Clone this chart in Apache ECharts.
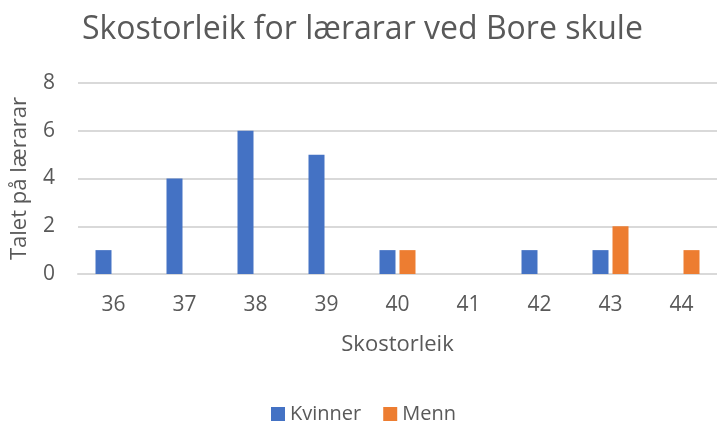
<!DOCTYPE html>
<html>
<head>
<meta charset="utf-8">
<script src="https://cdn.jsdelivr.net/npm/echarts@6/dist/echarts.min.js"></script>
<style>
  html, body { margin: 0; padding: 0; background: #fff; }
  #chart { width: 717px; height: 423px; }
</style>
</head>
<body>
<div id="chart"></div>
<script>
// skostorleik og talet på lærarar
const sizes = ["36", "37", "38", "39", "40", "41", "42", "43", "44"];
const kvinner = [1, 4, 6, 5, 1, 0, 1, 1, 0];
const menn = [0, 0, 0, 0, 1, 0, 0, 2, 1];
const yTicks = [0, 2, 4, 6, 8];

const textColor = "#595959";
const font = "Open Sans";

let chart = echarts.init(document.getElementById("chart"));
let option = {
  animation: false,
  textStyle: { fontFamily: font },
  title: {
    text: "Skostorleik for lærarar ved Bore skule",
    left: 77,
    top: 9,
    textStyle: {
      fontFamily: font,
      fontSize: 32,
      fontWeight: "normal",
      color: textColor,
    },
  },
  legend: {
    top: 399,
    left: 266,
    itemWidth: 14,
    itemHeight: 14,
    itemGap: 22,
    icon: "rect",
    textStyle: { fontSize: 20, color: textColor, fontFamily: font },
    data: ["Kvinner", "Menn"],
  },
  grid: {
    left: 78,
    top: 83,
    width: 646,
    height: 191,
    containLabel: false,
  },
  xAxis: {
    type: "category",
    data: sizes,
    name: "Skostorleik",
    nameLocation: "middle",
    nameGap: 60,
    nameTextStyle: { fontSize: 22, color: textColor, fontFamily: font },
    axisLine: { lineStyle: { color: "#D9D9D9", width: 2 } },
    axisTick: { show: false },
    axisLabel: { fontSize: 21, color: textColor, margin: 21, fontFamily: font },
  },
  yAxis: {
    type: "value",
    min: yTicks[0],
    max: yTicks[yTicks.length - 1],
    interval: 2,
    name: "Talet på lærarar",
    nameLocation: "middle",
    nameGap: 47,
    nameRotate: 90,
    nameTextStyle: { fontSize: 22, color: textColor, fontFamily: font },
    axisLine: { show: false },
    axisTick: { show: false },
    axisLabel: { fontSize: 21, color: textColor, margin: 23, fontFamily: font },
    splitLine: { lineStyle: { color: "#D9D9D9", width: 2 } },
  },
  series: [
    {
      name: "Kvinner",
      type: "bar",
      data: kvinner,
      barWidth: 16,
      barGap: "25%",
      itemStyle: { color: "#4472C4" },
    },
    {
      name: "Menn",
      type: "bar",
      data: menn,
      barWidth: 16,
      barGap: "25%",
      itemStyle: { color: "#ED7D31" },
    },
  ],
};
chart.setOption(option);
</script>
</body>
</html>
